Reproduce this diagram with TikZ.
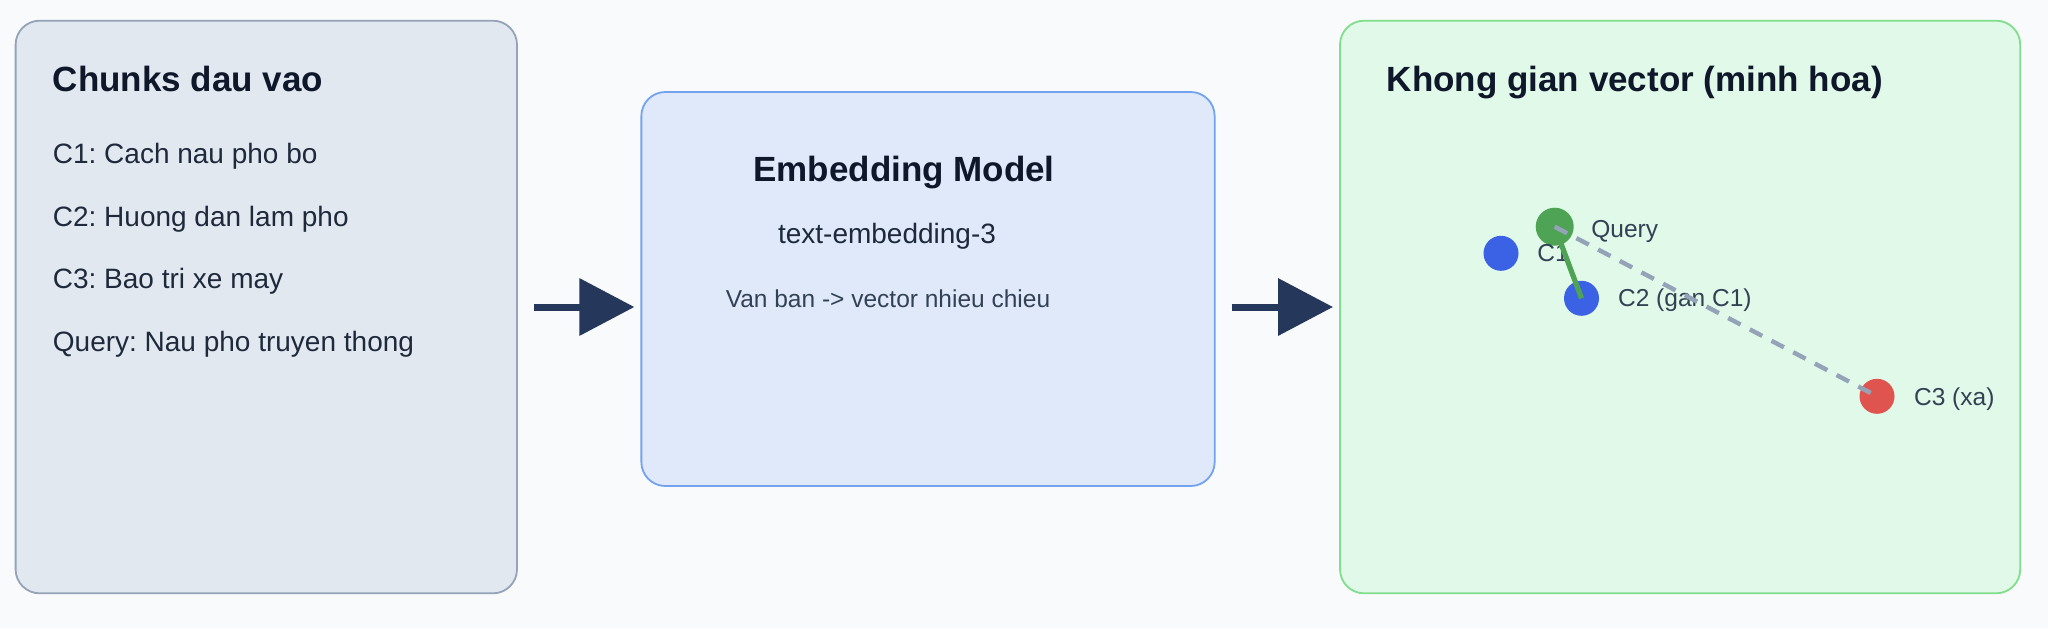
\documentclass[tikz,border=0pt]{standalone}
\usepackage{fontspec}
\setmainfont{Liberation Sans}
\usetikzlibrary{arrows.meta}
\frenchspacing
\definecolor{bgcol}{RGB}{248,250,252}
\definecolor{leftfill}{RGB}{226,232,240}
\definecolor{leftline}{RGB}{148,163,184}
\definecolor{midfill}{RGB}{223,233,250}
\definecolor{midline}{RGB}{114,162,240}
\definecolor{rightfill}{RGB}{224,249,232}
\definecolor{rightline}{RGB}{128,222,140}
\definecolor{titlecol}{RGB}{15,23,42}
\definecolor{bodycol}{RGB}{30,41,59}
\definecolor{labelcol}{RGB}{51,65,85}
\definecolor{arrowcol}{RGB}{37,56,92}
\definecolor{ptblue}{RGB}{59,98,228}
\definecolor{ptgreen}{RGB}{78,163,84}
\definecolor{ptred}{RGB}{224,84,80}
\definecolor{dashcol}{RGB}{148,163,184}
\tikzset{
  panel/.style={rectangle, rounded corners=12pt, line width=0.9pt, inner sep=0pt, outer sep=0pt},
  titletext/.style={inner sep=0pt, text=titlecol, font=\fontsize{17.5pt}{21pt}\selectfont\bfseries},
  bodytext/.style={inner sep=0pt, anchor=base west, text=bodycol, font=\fontsize{14pt}{17pt}\selectfont},
  smalltext/.style={inner sep=0pt, text=labelcol, font=\fontsize{12.25pt}{15pt}\selectfont},
  arr/.style={draw=arrowcol, line width=3.5pt, -{Triangle[length=27.5pt,width=28pt]}, fill=arrowcol},
  pt/.style={circle, inner sep=0pt, outer sep=0pt, draw=none, minimum size=17.5pt},
  simline/.style={draw=ptgreen, line width=2.6pt},
  farline/.style={draw=dashcol, line width=2.2pt, dash pattern=on 7pt off 5.25pt}
}
\begin{document}
\begin{tikzpicture}[x=0.5pt,y=-0.5pt]
\fill[bgcol] (0,0) rectangle (2048,628);
\useasboundingbox (0,0) rectangle (2048,628);
% panels
\node[panel, fill=leftfill, draw=leftline, minimum width=250.7pt, minimum height=286.3pt] (chunks) at (266.3,307) {};
\node[panel, fill=midfill, draw=midline, minimum width=286.65pt, minimum height=197pt] (embed) at (928,289) {};
\node[panel, fill=rightfill, draw=rightline, minimum width=340.1pt, minimum height=286.3pt] (vec) at (1680.1,307) {};
% left texts
\node[titletext, anchor=base west] (t1) at (52.5,91.7) {Chunks dau vao};
\node[bodytext] (l1) at (52.5,163.4) {C1: Cach nau pho bo};
\node[bodytext] (l2) at (52.5,226.2) {C2: Huong dan lam pho};
\node[bodytext] (l3) at (52.5,288.8) {C3: Bao tri xe may};
\node[bodytext] (l4) at (52.5,351.6) {Query: Nau pho truyen thong};
% middle texts
\node[titletext, anchor=base] (t2) at (904,181.7) {Embedding Model};
\node[bodytext, anchor=base] (m1) at (887,243.3) {text-embedding-3};
\node[smalltext, anchor=base] (m2) at (888,307.3) {Van ban -> vector nhieu chieu};
% right texts
\node[titletext, anchor=base west] (t3) at (1386.4,91.7) {Khong gian vector (minh hoa)};
% points
\node[pt, fill=ptgreen, minimum size=19pt] (q) at (1554.7,226.7) {};
\node[pt, fill=ptblue] (c1) at (1501,253.3) {};
\node[pt, fill=ptblue] (c2) at (1581.5,298.3) {};
\node[pt, fill=ptred] (c3) at (1877,396.3) {};
% labels
\node[smalltext, anchor=base west] (lq) at (1591,237) {Query};
\node[smalltext, anchor=base west] (lc1) at (1537,261.7) {C1};
\node[smalltext, anchor=base west] (lc2) at (1617.7,306.7) {C2 (gan C1)};
\node[smalltext, anchor=base west] (lc3) at (1913.7,405) {C3 (xa)};
% similarity lines
\draw[simline] (q.center) -- (c2.center);
\draw[farline] (q.center) -- (c3.center);
% arrows
\draw[arr] ([xshift=8.5pt]chunks.east) -- ([xshift=-3.5pt]chunks.east -| embed.west);
\draw[arr] ([xshift=8.5pt]embed.east |- chunks.east) -- ([xshift=-3.5pt]vec.west |- chunks.east);
\end{tikzpicture}
\end{document}
